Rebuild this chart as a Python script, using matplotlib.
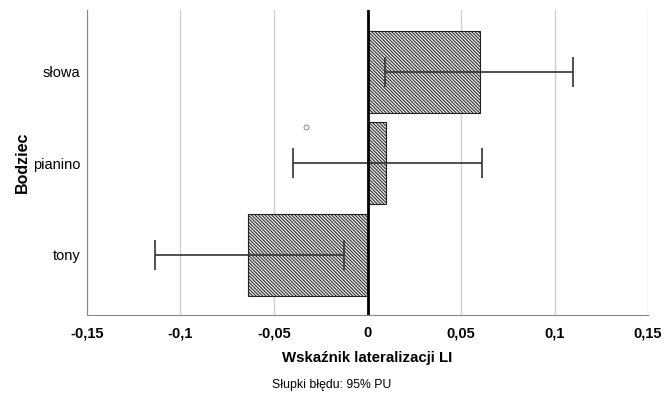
import matplotlib.pyplot as plt
import numpy as np

plt.rcParams['font.family'] = ['Liberation Sans', 'DejaVu Sans']
plt.rcParams['hatch.linewidth'] = 0.7
plt.rcParams['hatch.color'] = '#2a2a2a'

# data
categories = ["tony", "pianino", "słowa"]
means = [-0.064, 0.010, 0.060]
ci_low = [-0.1136, -0.0398, 0.0094]
ci_high = [-0.0126, 0.0612, 0.110]
outlier_x = [-0.033]
outlier_y = [1.40]
xticks = [-0.15, -0.1, -0.05, 0, 0.05, 0.1, 0.15]
xtick_labels = ["-0,15", "-0,1", "-0,05", "0", "0,05", "0,1", "0,15"]

fig = plt.figure(figsize=(6.64, 3.95), dpi=100)
ax = fig.add_axes([0.131, 0.2025, 0.845, 0.7725])

y = np.arange(len(categories))
ax.barh(y, means, height=0.9, color='#e6e6e6', edgecolor='#222222',
        hatch='\\' * 10, linewidth=0.8, zorder=2)

err = [np.array(means) - np.array(ci_low), np.array(ci_high) - np.array(means)]
ax.errorbar(means, y, xerr=err, fmt='none', ecolor='#333333',
            elinewidth=1.2, capsize=11, capthick=1.2, zorder=3)

ax.plot(outlier_x, outlier_y, 'o', markersize=3.5, markerfacecolor='white',
        markeredgecolor='#999999', markeredgewidth=0.8, zorder=3)

ax.axvline(0, color='black', linewidth=2, zorder=4)

ax.set_xlim(-0.15, 0.15)
ax.set_ylim(-0.66, 2.68)
ax.set_xticks(xticks)
ax.set_xticklabels(xtick_labels, fontweight='bold', fontsize=10.5)
ax.set_yticks(y)
ax.set_yticklabels(categories, fontsize=10.5)
ax.tick_params(length=0, pad=8)
ax.tick_params(axis='y', pad=5)

ax.grid(axis='x', color='#d0d0d0', linewidth=1, zorder=0)
ax.set_axisbelow(True)
for s in ['top', 'right']:
    ax.spines[s].set_visible(False)
for s in ['left', 'bottom']:
    ax.spines[s].set_color('#888888')

ax.set_xlabel("Wskaźnik lateralizacji LI", fontweight='bold', fontsize=10.8, labelpad=8)
ax.set_ylabel("Bodziec", fontweight='bold', fontsize=11.5, labelpad=2)

fig.text(0.5, 0.025, "Słupki błędu: 95% PU", ha='center', va='center', fontsize=8.8)

fig.savefig("out.png", dpi=100)
